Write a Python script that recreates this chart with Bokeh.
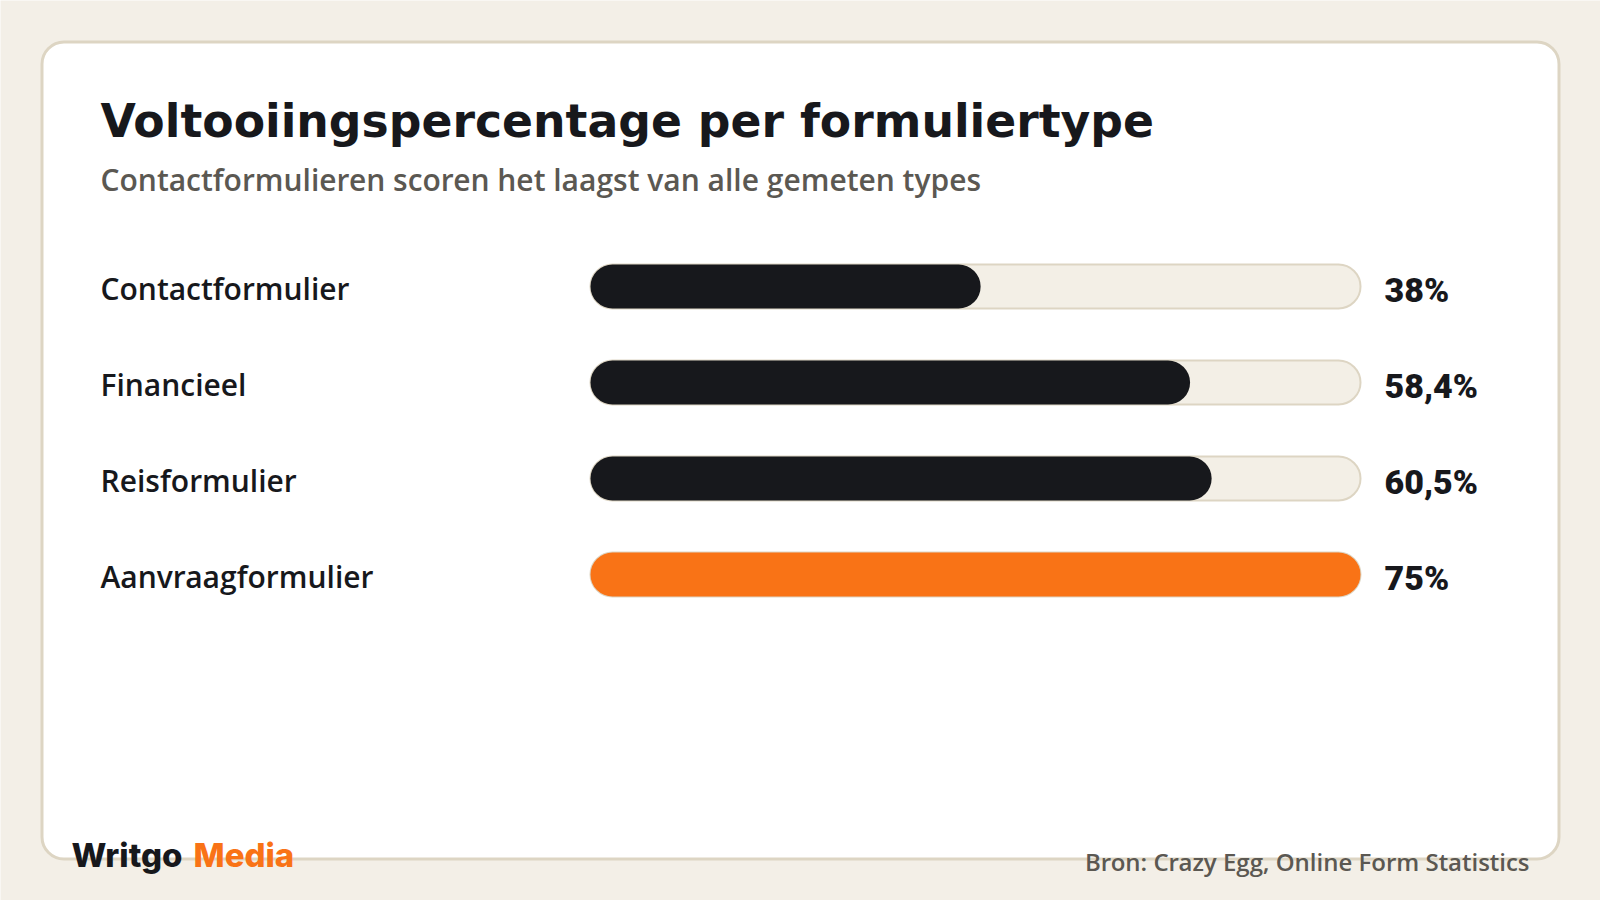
from bokeh.plotting import figure
from bokeh.models import Range1d, ColumnDataSource, BoxAnnotation
from bokeh.embed import file_html
from bokeh.resources import INLINE
from bokeh.core.properties import value

# ---- data ----
categories = ["Contactformulier", "Financieel", "Reisformulier", "Aanvraagformulier"]
values = [38.0, 58.4, 60.5, 75.0]
highlight = [False, False, False, True]

TITLE = "Voltooiingspercentage per formuliertype"
SUBTITLE = "Contactformulieren scoren het laagst van alle gemeten types"
SOURCE = "Bron: Crazy Egg, Online Form Statistics"
BRAND_A = "Writgo"
BRAND_B = "Media"

# ---- styles ----
BG = "#F3EFE7"
DARK = "#17181C"
ORANGE = "#F97316"
TRACK = "#F3EFE6"
TRACK_LINE = "#DDD5C3"
GREY = "#5B5852"
SEMI = value("'Open Sans SemiBold', 'Open Sans'")
TITLE_F = value("DejaVu Sans")
BRAND_F = value("'Inter ExtraBold', Inter")
NUM_F = value("'Roboto Black', Roboto")

W, H = 1600, 900
OFF = 0
X0, X1 = 590, 1360          # page px of bar start / bar max
vmax = max(values)
S = (X1 - X0) / vmax         # px per unit
ROW0, ROW = 286, 96          # page px of first row centre / row pitch
BAR_H = 44


def X(px):
    return (px - X0) / S


def Y(py):
    return (py - ROW0) / ROW


p = figure(width=W, height=H,
           x_range=Range1d(X(OFF), X(OFF + W)),
           y_range=Range1d(Y(OFF + H), Y(OFF)),
           output_backend="svg", toolbar_location=None, min_border=0)
p.axis.visible = False
p.grid.visible = False
p.outline_line_color = None
p.background_fill_color = BG
p.border_fill_color = BG

card = BoxAnnotation(left=X(41.5), right=X(1558.5), top=Y(41.5), bottom=Y(858.5),
                     fill_color="white", fill_alpha=1, line_color=TRACK_LINE,
                     line_alpha=1, line_width=3, border_radius=22, level="underlay")
p.add_layout(card)

n = len(categories)
src = ColumnDataSource(dict(
    y=list(range(n)),
    cat=categories,
    val=values,
    track=[vmax] * n,
    color=[ORANGE if h else DARK for h in highlight],
    lab=[f"{v:g}".replace(".", ",") + "%" for v in values],
))

p.hbar(y="y", left=0, right="track", height=BAR_H / ROW, fill_color=TRACK,
       line_color=TRACK_LINE, line_width=2, border_radius=BAR_H // 2, source=src)
p.hbar(y="y", left=0, right="val", height=BAR_H / ROW, fill_color="color",
       line_color=None, border_radius=BAR_H // 2, source=src)

p.text(x=X(100), y="y", text="cat", text_font=SEMI, text_font_size="30px",
       text_baseline="middle", text_color=DARK, y_offset=2, source=src)
p.text(x=X(1384), y="y", text="lab", text_font=NUM_F, text_font_style="bold",
       text_font_size="34px", text_baseline="middle", text_color=DARK,
       y_offset=3, source=src)

# headings and footer
p.text(x=[X(100)], y=[Y(120.5)], text=[TITLE], text_font=TITLE_F,
       text_font_style="bold", text_font_size="45.7px", text_baseline="middle",
       text_color=DARK)
p.text(x=[X(100)], y=[Y(179)], text=[SUBTITLE], text_font=SEMI,
       text_font_size="30px", text_baseline="middle", text_color=GREY)
p.text(x=[X(71)], y=[Y(854)], text=[BRAND_A], text_font=BRAND_F,
       text_font_style="bold", text_font_size="33px", text_baseline="middle",
       text_color=DARK)
p.text(x=[X(193)], y=[Y(854)], text=[BRAND_B], text_font=BRAND_F,
       text_font_style="bold", text_font_size="33px", text_baseline="middle",
       text_color=ORANGE)
p.text(x=[X(1529)], y=[Y(861)], text=[SOURCE], text_font=SEMI,
       text_font_size="24px", text_baseline="middle", text_align="right",
       text_color=GREY)

html = file_html(p, INLINE, title="Voltooiingspercentage per formuliertype")
html = html.replace("<body>", f'<body style="background:{BG};margin:0;overflow:hidden">', 1)
open("out.html", "w").write(html)
